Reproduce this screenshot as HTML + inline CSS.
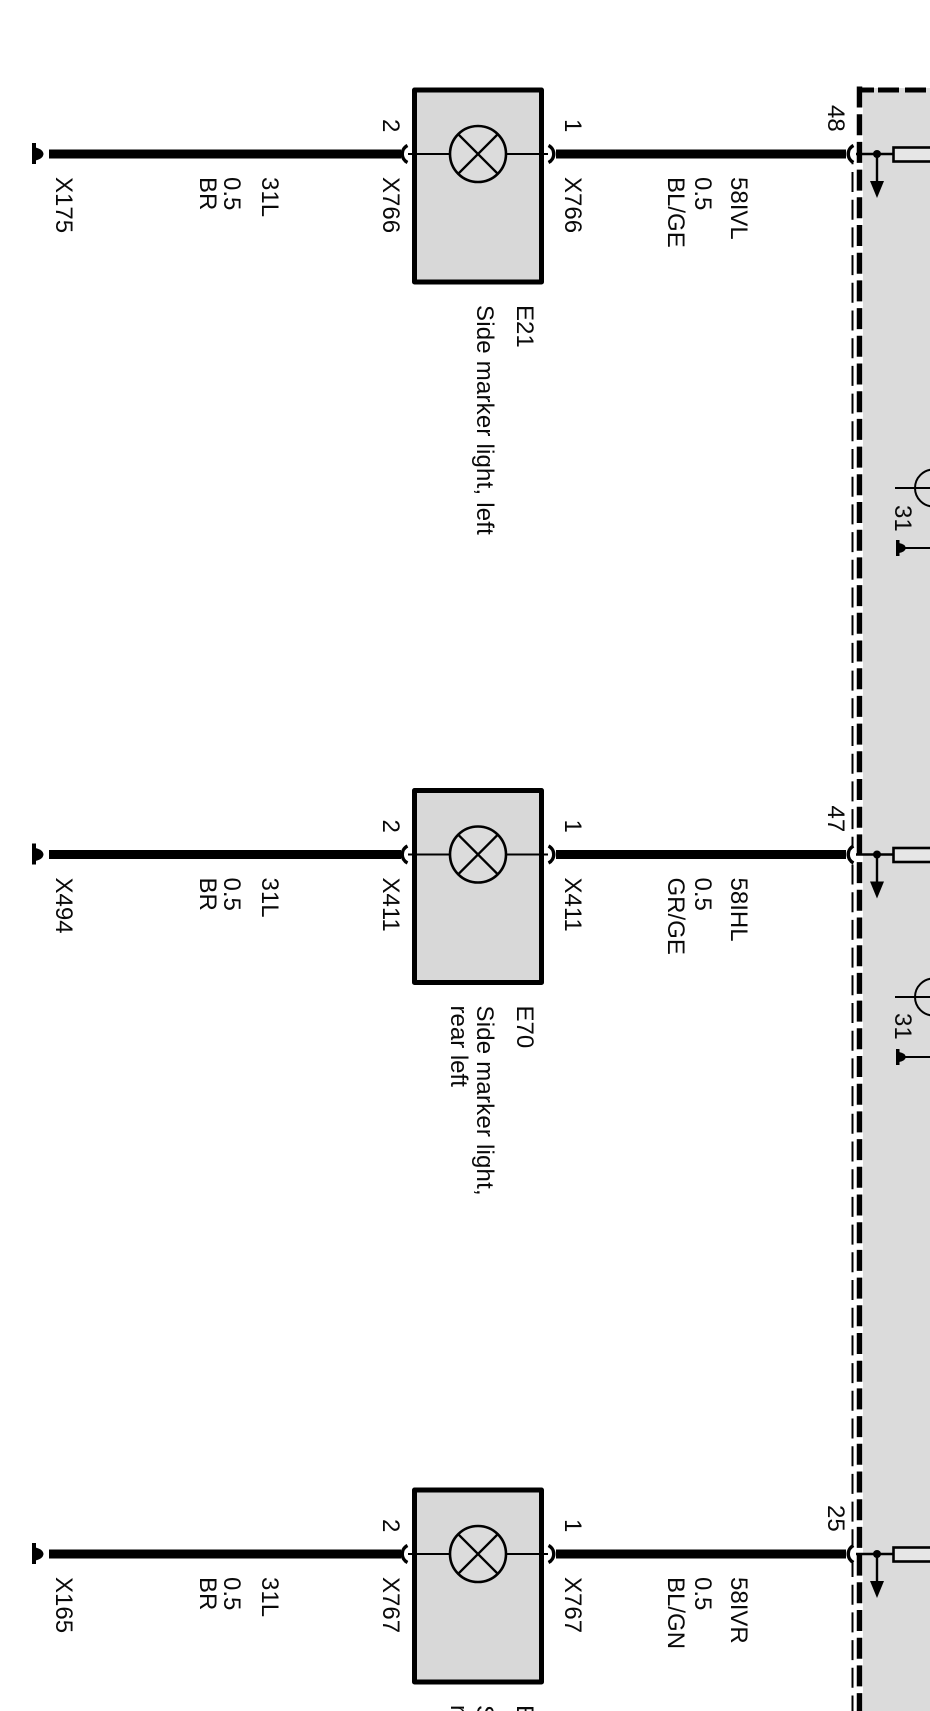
<!DOCTYPE html>
<html><head><meta charset="utf-8"><style>
html,body{margin:0;padding:0;background:#fff;width:930px;height:1711px;overflow:hidden}
svg{display:block;position:absolute;left:0;top:0}
text{font-family:"Liberation Sans",Arial,sans-serif;font-size:24px;fill:#0a0a0a}
#clip{position:absolute;left:0;top:1700px;width:930px;height:11px;overflow:hidden}
</style></head><body>
<svg width="930" height="1711" viewBox="0 0 930 1711" xmlns="http://www.w3.org/2000/svg">
<defs>
<g id="row">
  <!-- ground left -->
  <rect x="32" y="143" width="4" height="21" fill="#000"/>
  <path d="M35 147.500 Q43 149 43.500 154 Q43 159 35 160.500Z" fill="#000"/>
  <!-- left wire -->
  <rect x="49" y="149.500" width="352" height="9" fill="#000"/>
  <path d="M407.500 145.500 A9.500 9.500 0 0 0 407.500 162.500" fill="none" stroke="#000" stroke-width="3.400"/>
  <!-- box -->
  <rect x="414.500" y="90" width="127" height="192" fill="#d8d8d8" stroke="#000" stroke-width="5" stroke-linejoin="round"/>
  <line x1="408" y1="154" x2="450" y2="154" stroke="#000" stroke-width="2"/>
  <line x1="506" y1="154" x2="548" y2="154" stroke="#000" stroke-width="2"/>
  <circle cx="478" cy="154" r="28" fill="#dcdcdc" stroke="#000" stroke-width="2.600"/>
  <line x1="458.200" y1="134.200" x2="497.800" y2="173.800" stroke="#000" stroke-width="2.400"/>
  <line x1="458.200" y1="173.800" x2="497.800" y2="134.200" stroke="#000" stroke-width="2.400"/>
  <!-- right wire -->
  <path d="M548.500 145.500 A9.500 9.500 0 0 1 548.500 162.500" fill="none" stroke="#000" stroke-width="3.400"/>
  <rect x="556" y="149.500" width="290" height="9" fill="#000"/>
  <!-- module connector -->
  <rect x="847" y="146" width="9" height="17" fill="#fff"/>
  <path d="M853.500 145.500 A9.500 9.500 0 0 0 853.500 162.500" fill="none" stroke="#000" stroke-width="3.400"/>
  <line x1="856" y1="154" x2="893" y2="154" stroke="#000" stroke-width="2.400"/>
  <circle cx="877" cy="154" r="4" fill="#000"/>
  <line x1="877" y1="154" x2="877" y2="184" stroke="#000" stroke-width="2.400"/>
  <path d="M870 181 L884 181 L877 198Z" fill="#000"/>
  <rect x="893.500" y="147.500" width="50" height="14" fill="#e6e6e6" stroke="#000" stroke-width="2.600"/>
</g>
<g id="gnd">
  <line x1="895" y1="0" x2="952" y2="0" stroke="#000" stroke-width="2"/>
  <circle cx="933.500" cy="0" r="18.500" fill="none" stroke="#000" stroke-width="2"/>
  <rect x="896" y="52" width="3.500" height="16" fill="#000"/>
  <path d="M899 55 Q905 56 906 60 Q905 64 899 65Z" fill="#000"/>
  <line x1="905" y1="60" x2="930" y2="60" stroke="#000" stroke-width="2"/>
</g>
</defs>

<!-- module background -->
<rect x="863" y="88" width="67" height="1623" fill="#dbdbdb"/>
<!-- thin dashed -->
<line x1="852.500" y1="163" x2="852.500" y2="1711" stroke="#000" stroke-width="2" stroke-dasharray="20 7.700" stroke-dashoffset="-9"/>
<!-- thick dashed -->
<line x1="859.500" y1="86.500" x2="859.500" y2="1711" stroke="#000" stroke-width="5.500" stroke-dasharray="21 6.700"/>
<line x1="857" y1="90" x2="930" y2="90" stroke="#000" stroke-width="5" stroke-dasharray="17 4 21 6 21 6 21"/>

<use href="#row"/>
<use href="#row" y="700.500"/>
<use href="#row" y="1400"/>
<use href="#gnd" y="488"/>
<use href="#gnd" y="997"/>

<!-- row 1 labels -->
<g>
<text transform="translate(56,177) rotate(90)">X175</text>
<text transform="translate(200,177) rotate(90)">BR</text>
<text transform="translate(224,177) rotate(90)">0.5</text>
<text transform="translate(262,177) rotate(90)">31L</text>
<text transform="translate(383,177) rotate(90)">X766</text>
<text transform="translate(383,119) rotate(90)">2</text>
<text transform="translate(565,177) rotate(90)">X766</text>
<text transform="translate(565,119) rotate(90)">1</text>
<text transform="translate(668,177) rotate(90)">BL/GE</text>
<text transform="translate(695,177) rotate(90)">0.5</text>
<text transform="translate(731,177) rotate(90)">58IVL</text>
<text transform="translate(828,105) rotate(90)">48</text>
<text transform="translate(517,305) rotate(90)">E21</text>
<text transform="translate(477,305) rotate(90)" letter-spacing="0.2">Side marker light, left</text>
<text transform="translate(895,505) rotate(90)">31</text>
</g>
<!-- row 2 labels -->
<g>
<text transform="translate(56,877.500) rotate(90)">X494</text>
<text transform="translate(200,877.500) rotate(90)">BR</text>
<text transform="translate(224,877.500) rotate(90)">0.5</text>
<text transform="translate(262,877.500) rotate(90)">31L</text>
<text transform="translate(383,877.500) rotate(90)">X411</text>
<text transform="translate(383,819.500) rotate(90)">2</text>
<text transform="translate(565,877.500) rotate(90)">X411</text>
<text transform="translate(565,819.500) rotate(90)">1</text>
<text transform="translate(668,877.500) rotate(90)">GR/GE</text>
<text transform="translate(695,877.500) rotate(90)">0.5</text>
<text transform="translate(731,877.500) rotate(90)">58IHL</text>
<text transform="translate(828,805.500) rotate(90)">47</text>
<text transform="translate(517,1005.500) rotate(90)">E70</text>
<text transform="translate(477,1005.500) rotate(90)" letter-spacing="0.2">Side marker light,</text>
<text transform="translate(451,1005.500) rotate(90)">rear left</text>
<text transform="translate(895,1013) rotate(90)">31</text>
</g>
<!-- row 3 labels -->
<g>
<text transform="translate(56,1577) rotate(90)">X165</text>
<text transform="translate(200,1577) rotate(90)">BR</text>
<text transform="translate(224,1577) rotate(90)">0.5</text>
<text transform="translate(262,1577) rotate(90)">31L</text>
<text transform="translate(383,1577) rotate(90)">X767</text>
<text transform="translate(383,1519) rotate(90)">2</text>
<text transform="translate(565,1577) rotate(90)">X767</text>
<text transform="translate(565,1519) rotate(90)">1</text>
<text transform="translate(668,1577) rotate(90)">BL/GN</text>
<text transform="translate(695,1577) rotate(90)">0.5</text>
<text transform="translate(731,1577) rotate(90)">58IVR</text>
<text transform="translate(828,1505) rotate(90)">25</text>
</g>
</svg>
<div id="clip">
<svg width="930" height="11" viewBox="0 1700 930 11" xmlns="http://www.w3.org/2000/svg">
<text transform="translate(517,1705) rotate(90)">E</text>
<text transform="translate(477,1705) rotate(90)">S</text>
<text transform="translate(451,1705) rotate(90)">r</text>
</svg>
</div>
</body></html>
